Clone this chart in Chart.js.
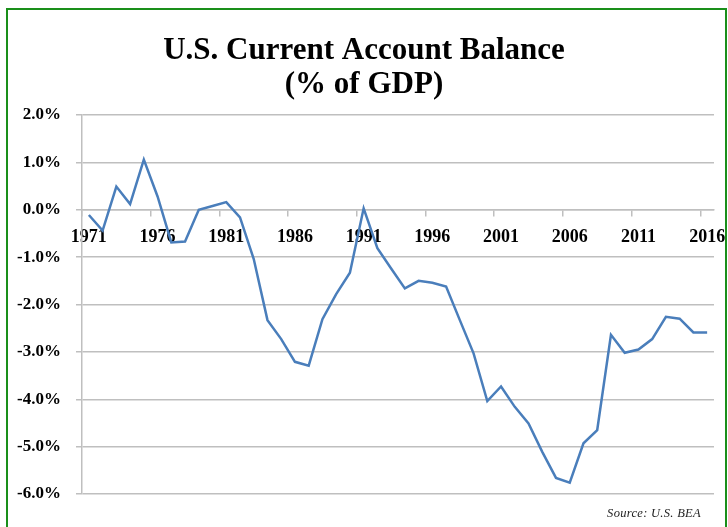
<!DOCTYPE html>
<html>
<head>
<meta charset="utf-8">
<script src="https://cdn.jsdelivr.net/npm/chart.js@4.4.0/dist/chart.umd.min.js"></script>
<style>
    body { margin: 0; background: #fff; }
    .frame {
        position: absolute; left: 6px; top: 8px; width: 721px; height: 600px;
        box-sizing: border-box; border: 2px solid #1a8f1a;
    }
    #wrap { position: absolute; left: 0; top: 0; width: 728px; height: 527px; overflow: hidden; }
    canvas { position: absolute; left: 0; top: 0; }
    .source {
        position: absolute; right: 27px; top: 506px; line-height: 16px;
        font: italic 12.5px "Liberation Serif", "Times New Roman", serif; color: #222;
        letter-spacing: 0.3px;
    }
</style>
</head>
<body>
<div id="wrap">
    <div class="frame"></div>
    <canvas id="caChart" width="728" height="527"></canvas>
    <div class="source">Source: U.S. BEA</div>
</div>
<script>
// Datos
const years = [];
for (let y = 1971; y <= 2016; y++) years.push(String(y));

const balancePct = [
    -0.11, -0.44, 0.49, 0.12, 1.06, 0.28, -0.69, -0.67, 0.0, 0.08,
    0.16, -0.16, -1.04, -2.33, -2.73, -3.21, -3.29, -2.31, -1.78, -1.33,
    0.03, -0.81, -1.24, -1.66, -1.50, -1.54, -1.62, -2.33, -3.03, -4.04,
    -3.73, -4.16, -4.51, -5.11, -5.66, -5.76, -4.93, -4.65, -2.64, -3.02,
    -2.95, -2.73, -2.26, -2.30, -2.59, -2.59
];

const yTicks = [2, 1, 0, -1, -2, -3, -4, -5, -6];
const titleLines = ['U.S. Current Account Balance', '(% of GDP)'];

const serif = '"Liberation Serif", "Times New Roman", serif';
const gridGray = '#bfbfbf';
Chart.defaults.font.family = serif;

const ctx = document.getElementById('caChart');
new Chart(ctx, {
    type: 'line',
    data: {
        labels: years,
        datasets: [{
            label: 'Current Account Balance',
            data: balancePct,
            borderColor: '#4a7ebb',
            borderWidth: 2.5,
            pointRadius: 0,
            tension: 0,
            fill: false
        }]
    },
    options: {
        responsive: false,
        animation: false,
        layout: { padding: { left: 14, right: 14, top: 0, bottom: 33 } },
        plugins: {
            legend: { display: false },
            tooltip: { enabled: false },
            title: {
                display: true,
                text: titleLines,
                color: '#000',
                font: { family: serif, size: 31, weight: 'bold', lineHeight: '34px' },
                padding: { top: 34, bottom: 13 }
            }
        },
        scales: {
            x: {
                type: 'category',
                position: { y: 0 },
                offset: true,
                afterFit: (scale) => {
                    scale.height = 0;
                    scale.paddingLeft = 0;
                    scale.paddingRight = 0;
                },
                grid: {
                    offset: true,
                    drawOnChartArea: false,
                    drawTicks: true,
                    tickLength: 6,
                    lineWidth: 1.5,
                    color: (c) => (c.index % 5 === 0 ? gridGray : 'rgba(0,0,0,0)')
                },
                border: { display: true, color: gridGray, width: 1.5 },
                ticks: {
                    autoSkip: false,
                    maxRotation: 0,
                    padding: 11,
                    color: '#000',
                    font: { size: 18, weight: 'bold' },
                    callback: function (val, i) { return i % 5 === 0 ? this.getLabelForValue(val) : ''; }
                }
            },
            y: {
                min: yTicks[yTicks.length - 1],
                max: yTicks[0],
                afterFit: (scale) => { scale.width = 68; },
                afterBuildTicks: (scale) => { scale.ticks = yTicks.map(v => ({ value: v })); },
                grid: { color: gridGray, lineWidth: 1.5, tickLength: 6 },
                border: { display: true, color: gridGray, width: 1.5 },
                ticks: {
                    padding: 15,
                    color: '#000',
                    font: { size: 17, weight: 'bold' },
                    callback: (v) => v.toFixed(1) + '%'
                }
            }
        }
    }
});
</script>
</body>
</html>
